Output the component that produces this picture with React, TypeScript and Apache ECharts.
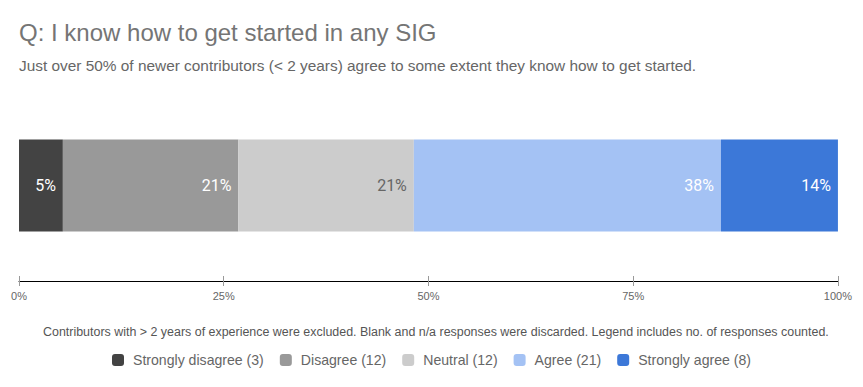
import React, { useEffect, useRef } from "react";
import * as echarts from "echarts";

const categories = ["Q"];
const seriesNames = ["Strongly disagree", "Disagree", "Neutral", "Agree", "Strongly agree"];
const counts = [3, 12, 12, 21, 8];
const colors = ["#434343", "#999999", "#cccccc", "#a4c2f4", "#3c78d8"];
const labelColors = ["#ffffff", "#ffffff", "#666666", "#ffffff", "#ffffff"];
const tickValues = [0, 25, 50, 75, 100];

const total = counts.reduce((a, b) => a + b, 0);

export default function App() {
  const ref = useRef<HTMLDivElement>(null);
  useEffect(() => {
    if (!ref.current) return;
    const chart = echarts.init(ref.current, null, { renderer: "svg" });
    const arial = "Arial, 'Liberation Sans', sans-serif";
    chart.setOption({
      animation: false,
      textStyle: { fontFamily: arial },
      title: [
        {
          text: "Q: I know how to get started in any SIG",
          left: 6,
          top: 7,
          padding: 5,
          textStyle: { fontSize: 24, fontWeight: "normal", color: "#757575", fontFamily: arial },
        },
        {
          text: "Just over 50% of newer contributors (< 2 years) agree to some extent they know how to get started.",
          left: 6,
          top: 45,
          padding: 5,
          textStyle: { fontSize: 15.4, fontWeight: "normal", color: "#666666", fontFamily: arial },
        },
        {
          text: "Contributors with > 2 years of experience were excluded. Blank and n/a responses were discarded. Legend includes no. of responses counted.",
          left: 30,
          top: 313,
          padding: 5,
          textStyle: { fontSize: 12.45, fontWeight: "normal", color: "#555555", fontFamily: arial },
        },
      ],
      legend: {
        top: 340,
        left: "center",
        itemWidth: 12,
        itemHeight: 12,
        itemGap: 16,
        icon: "roundRect",
        textStyle: { fontSize: 14.1, color: "#666666", fontFamily: arial, padding: [0, 0, 0, 4] },
        formatter: (name: string) => {
          const i = seriesNames.indexOf(name);
          return `${name} (${counts[i]})`;
        },
        data: seriesNames,
      },
      grid: { left: 11, width: 824, top: 82, height: 191, containLabel: false },
      xAxis: [
        {
          type: "value",
          min: 0,
          max: 100,
          interval: 25,
          position: "bottom",
          splitLine: { show: false },
          axisLine: { show: true, lineStyle: { color: "#000000", width: 1 } },
          axisTick: { show: true, length: 5, lineStyle: { color: "#999999" } },
          axisLabel: {
            color: "#666666",
            fontSize: 11,
            margin: 9,
            fontFamily: arial,
            formatter: (v: number) => (tickValues.includes(v) ? `${v}%` : ""),
          },
        },
        {
          type: "value",
          min: 0,
          max: 100,
          interval: 25,
          position: "bottom",
          splitLine: { show: false },
          axisLine: { show: false },
          axisTick: { show: true, inside: true, length: 5, lineStyle: { color: "#999999" } },
          axisLabel: { show: false },
        },
      ],
      yAxis: {
        type: "category",
        data: categories,
        show: false,
      },
      series: seriesNames.map((name, i) => ({
        name,
        type: "bar",
        stack: "total",
        xAxisIndex: 0,
        barWidth: 92,
        itemStyle: { color: colors[i] },
        label: {
          show: true,
          position: "insideRight",
          distance: 7,
          color: labelColors[i],
          fontSize: 16,
          fontFamily: "Roboto, sans-serif",
          formatter: (p: any) => `${Math.round(p.value)}%`,
        },
        data: [(counts[i] / total) * 100],
      })),
    });
    return () => chart.dispose();
  }, []);
  return <div ref={ref} style={{ width: 847, height: 371 }} />;
}
